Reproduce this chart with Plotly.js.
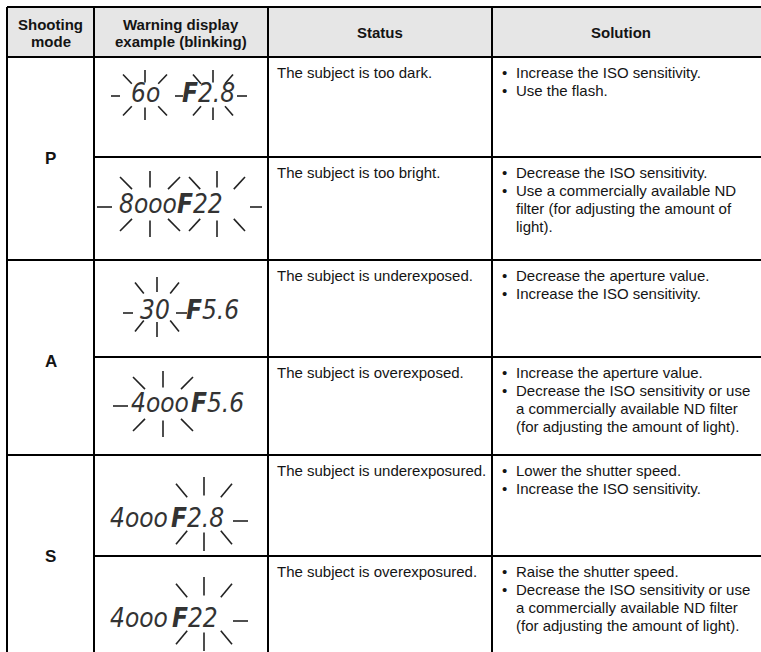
<!DOCTYPE html>
<html><head><meta charset="utf-8">
<script src="https://cdn.plot.ly/plotly-3.0.1.min.js"></script>
<style>html,body{margin:0;padding:0;background:#fff;}#chart{width:761px;height:652px;}</style>
</head><body><div id="chart"></div>
<script>
// ---------- data ----------
const headerMode = ["Shooting", "mode"];
const headerDisplay = ["Warning display", "example (blinking)"];
const headerStatus = "Status";
const headerSolution = "Solution";
const modes = ["P", "A", "S"];
const shutterDisplay = ["6o", "8ooo", "30", "4ooo", "4ooo", "4ooo"];
const apertureDisplay = ["F2.8", "F22", "F5.6", "F5.6", "F2.8", "F22"];
const statuses = [
  "The subject is too dark.",
  "The subject is too bright.",
  "The subject is underexposed.",
  "The subject is overexposed.",
  "The subject is underexposured.",
  "The subject is overexposured."
];
const solutions = [
  [["Increase the ISO sensitivity."], ["Use the flash."]],
  [["Decrease the ISO sensitivity."], ["Use a commercially available ND", "filter (for adjusting the amount of", "light)."]],
  [["Decrease the aperture value."], ["Increase the ISO sensitivity."]],
  [["Increase the aperture value."], ["Decrease the ISO sensitivity or use", "a commercially available ND filter", "(for adjusting the amount of light)."]],
  [["Lower the shutter speed."], ["Increase the ISO sensitivity."]],
  [["Raise the shutter speed."], ["Decrease the ISO sensitivity or use", "a commercially available ND filter", "(for adjusting the amount of light)."]]
];

// ---------- geometry / style (layout only) ----------
const W = 761, H = 652;
const colX = [7, 94, 268, 492, 790];
const rowY = [7, 57, 157, 260, 357, 455, 556, 670];
const LINE = "#000";
const TXT = "#141414";
const FONT = "Liberation Sans, Arial, Helvetica, sans-serif";
const LCDFONT = "Liberation Sans Narrow, DejaVu Sans Condensed, DejaVu Sans, sans-serif";
const lcd = [
  {y: 93,  sx: 145, ax: 208, bursts: [[145, 95, 22, 25], [213, 95, 20, 25]], dashes: [[111, 120], [175, 183], [237, 247]]},
  {y: 204, sx: 148, ax: 200, bursts: [[150, 204, 30, 33], [217, 204, 28, 33]], dashes: [[97, 112], [250, 262]]},
  {y: 310, sx: 155, ax: 212, bursts: [[157, 307, 22, 30]], dashes: [[123, 133], [176, 187]]},
  {y: 403, sx: 160, ax: 217, bursts: [[163, 404, 30, 33]], dashes: [[113, 128]]},
  {y: 518, sx: 139, ax: 197, bursts: [[204, 514, 28, 37]], dashes: [[233, 248]]},
  {y: 618, sx: 139, ax: 195, bursts: [[204, 614, 28, 37]], dashes: [[233, 248]]}
];

const shapes = [];
const annotations = [];
function line(x0, y0, x1, y1, w, c) {
  shapes.push({type: "line", xref: "x", yref: "y", x0, y0, x1, y1, line: {color: c || LINE, width: w || 2}});
}
function ann(text, x, y, o) {
  o = o || {};
  annotations.push({
    text, x, y, xref: "x", yref: "y", showarrow: false,
    xanchor: o.xa || "left", yanchor: "middle", align: o.xa || "left",
    borderpad: 0,
    font: {family: o.family || FONT, size: o.size || 15, color: o.color || TXT,
           weight: o.weight || "normal", style: o.style || "normal"}
  });
}

// header background
shapes.push({type: "rect", xref: "x", yref: "y", x0: colX[0], x1: colX[4], y0: rowY[0], y1: rowY[1],
  fillcolor: "#e6e6e6", line: {width: 0}, layer: "below"});
// grid
line(colX[0], rowY[0], colX[4], rowY[0]);
[1, 3, 5].forEach(i => line(colX[0], rowY[i], colX[4], rowY[i]));
[2, 4, 6].forEach(i => line(colX[1], rowY[i], colX[4], rowY[i]));
for (let c = 0; c < 4; c++) line(colX[c], rowY[0], colX[c], rowY[7]);

// header text
const hc = (a, b) => (a + b) / 2;
ann("<b>" + headerMode[0] + "</b>", hc(colX[0], colX[1]), 24, {xa: "center"});
ann("<b>" + headerMode[1] + "</b>", hc(colX[0], colX[1]), 41, {xa: "center"});
ann("<b>" + headerDisplay[0] + "</b>", hc(colX[1], colX[2]), 24, {xa: "center"});
ann("<b>" + headerDisplay[1] + "</b>", hc(colX[1], colX[2]), 41, {xa: "center"});
ann("<b>" + headerStatus + "</b>", hc(colX[2], colX[3]), 32, {xa: "center"});
ann("<b>" + headerSolution + "</b>", 621, 32, {xa: "center"});

// modes
modes.forEach((m, i) => {
  const top = rowY[1 + 2 * i];
  ann("<b>" + m + "</b>", hc(colX[0], colX[1]), top + 101, {xa: "center", size: 17});
});

// rows
const PITCH = 18;
statuses.forEach((s, r) => {
  const top = rowY[1 + r];
  const y0 = top + 15;
  ann(s, 276, y0);
  let k = 0;
  solutions[r].forEach(item => {
    item.forEach((ln, j) => {
      if (j === 0) ann("\u2022", 501, y0 + k * PITCH);
      ann(ln, 515, y0 + k * PITCH);
      k++;
    });
  });
  // LCD display
  const g = lcd[r];
  const lf = {xa: "center", family: LCDFONT, size: 26, style: "italic", color: "#333"};
  ann(shutterDisplay[r], g.sx, g.y, lf);
  const ap = apertureDisplay[r];
  ann("<b>" + ap.charAt(0) + "</b>" + ap.slice(1), g.ax, g.y, lf);
  g.bursts.forEach(([cx, cy, rx, ry]) => {
    line(cx, cy - ry, cx, cy - 0.5 * ry, 1.6, "#222");
    line(cx, cy + 0.5 * ry, cx, cy + ry, 1.6, "#222");
    [-1, 1].forEach(sx => [-1, 1].forEach(sy => {
      line(cx + sx * 0.6 * rx, cy + sy * 0.45 * ry, cx + sx * rx, cy + sy * 0.82 * ry, 1.6, "#222");
    }));
  });
  g.dashes.forEach(([a, b]) => line(a, g.y + 3, b, g.y + 3, 1.6, "#222"));
});

const layout = {
  width: W, height: H,
  margin: {l: 0, r: 0, t: 0, b: 0},
  paper_bgcolor: "#fff", plot_bgcolor: "#fff",
  xaxis: {range: [0, W], visible: false, fixedrange: true},
  yaxis: {range: [H, 0], visible: false, fixedrange: true},
  showlegend: false,
  shapes, annotations
};
Plotly.newPlot("chart", [{type: "scatter", x: [], y: [], mode: "markers", hoverinfo: "skip"}], layout,
  {staticPlot: true, displayModeBar: false});
</script>
</body></html>
